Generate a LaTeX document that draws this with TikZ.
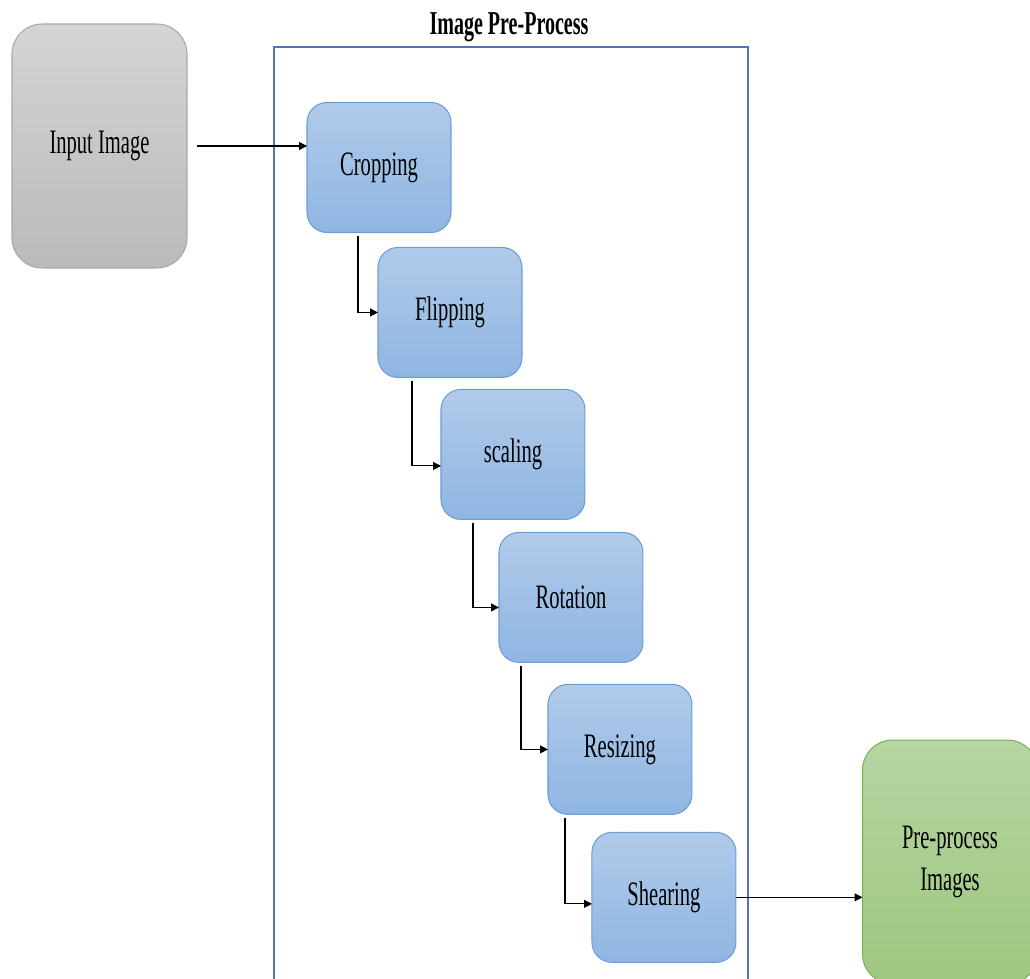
\documentclass[tikz,border=0pt]{standalone}
\usepackage{fontspec}
\setmainfont{Liberation Serif}[FakeStretch=0.6]
\usepackage{tikz}
\usetikzlibrary{shapes,arrows.meta,positioning,calc}
\usepackage{xcolor}

\definecolor{stepTop}{RGB}{177,202,234}
\definecolor{stepBot}{RGB}{143,182,226}
\definecolor{stepLine}{RGB}{108,158,214}
\definecolor{inTop}{RGB}{212,212,212}
\definecolor{inBot}{RGB}{186,186,186}
\definecolor{inLine}{RGB}{168,168,168}
\definecolor{outTop}{RGB}{182,213,162}
\definecolor{outBot}{RGB}{158,199,128}
\definecolor{outLine}{RGB}{122,180,82}
\definecolor{frameLine}{RGB}{84,114,184}

\begin{document}
\begin{tikzpicture}[
    x=0.02cm, y=-0.02cm,
    txt/.style={font=\fontsize{19.5}{24}\selectfont},
    stage/.style={rectangle, rounded corners=0.4cm, draw=stepLine, line width=0.6pt, top color=stepTop, bottom color=stepBot, minimum width=2.88cm, minimum height=2.6cm, outer sep=0pt, align=center, txt},
    endbox/.style={rectangle, rounded corners=0.6cm, line width=0.6pt, minimum width=3.5cm, minimum height=4.88cm, outer sep=0pt, align=center, txt},
    conn/.style={draw, line width=0.6pt, -{Triangle[length=4.5pt,width=4.5pt]}}
]
    \clip (0,0) rectangle (1030,979);

    % container
    \draw[frameLine, line width=0.6pt] (274,47) rectangle (748,1000);
    \node[txt, font=\fontsize{19}{24}\selectfont\bfseries] (title) at (509,27) {Image Pre-Process};

    \node[endbox, draw=inLine, top color=inTop, bottom color=inBot] (input) at (99.5,146) {Input Image};

    \node[stage] (crop) at (379,167.5) {Cropping};
    \node[stage, below right=0.3cm and -1.46cm of crop] (flip) {Flipping};
    \node[stage, below right=0.24cm and -1.62cm of flip] (scal) {scaling};
    \node[stage, below right=0.26cm and -1.72cm of scal] (rot) {Rotation};
    \node[stage, below right=0.44cm and -1.9cm of rot] (resz) {Resizing};
    \node[stage, below right=0.36cm and -2.0cm of resz] (shear) {Shearing};

    \node[endbox, draw=outLine, top color=outTop, bottom color=outBot] (out) at (950,862) {Pre-process\\Images};

    \draw[conn, shorten <=0.2cm] (input.east) -- (input.east -| crop.west);
    \draw[conn, shorten <=2pt] ([xshift=-0.4cm]flip.west |- crop.south) |- (flip.west);
    \draw[conn, shorten <=2pt] ([xshift=-0.58cm]scal.west |- flip.south) |- ([yshift=-0.23cm]scal.west);
    \draw[conn, shorten <=2pt] ([xshift=-0.52cm]rot.west |- scal.south) |- ([yshift=-0.2cm]rot.west);
    \draw[conn, shorten <=2pt] ([xshift=-0.54cm]resz.west |- rot.south) |- (resz.west);
    \draw[conn, shorten <=2pt] ([xshift=-0.54cm]shear.west |- resz.south) |- ([yshift=-0.13cm]shear.west);
    \draw[conn] (shear.east) -- (shear.east -| out.west);
\end{tikzpicture}
\end{document}
